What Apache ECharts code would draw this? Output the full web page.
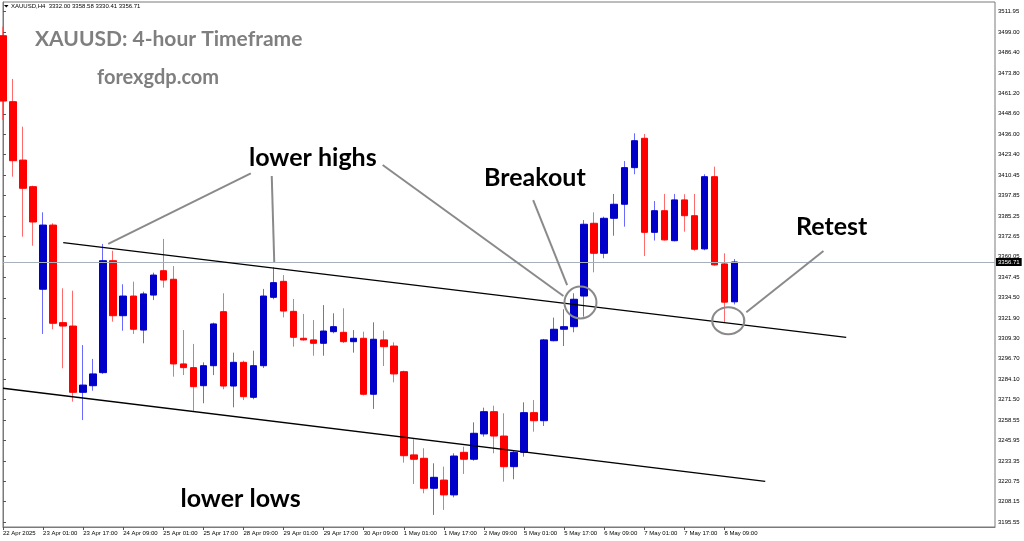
<!DOCTYPE html>
<html>
<head>
<meta charset="utf-8">
<script src="https://cdn.jsdelivr.net/npm/echarts@6/dist/echarts.min.js"></script>
<style>
html,body{margin:0;padding:0;background:#fff;}
#chart{width:1024px;height:541px;}
</style>
</head>
<body>
<div id="chart"></div>
<script>
// ---- data ----
const categories = [
 '22 Apr 09:00','22 Apr 13:00','22 Apr 17:00','22 Apr 21:00',
 '23 Apr 01:00','23 Apr 05:00','23 Apr 09:00','23 Apr 13:00','23 Apr 17:00','23 Apr 21:00',
 '24 Apr 01:00','24 Apr 05:00','24 Apr 09:00','24 Apr 13:00','24 Apr 17:00','24 Apr 21:00',
 '25 Apr 01:00','25 Apr 05:00','25 Apr 09:00','25 Apr 13:00','25 Apr 17:00','25 Apr 21:00',
 '28 Apr 01:00','28 Apr 05:00','28 Apr 09:00','28 Apr 13:00','28 Apr 17:00','28 Apr 21:00',
 '29 Apr 01:00','29 Apr 05:00','29 Apr 09:00','29 Apr 13:00','29 Apr 17:00','29 Apr 21:00',
 '30 Apr 01:00','30 Apr 05:00','30 Apr 09:00','30 Apr 13:00','30 Apr 17:00','30 Apr 21:00',
 '1 May 01:00','1 May 05:00','1 May 09:00','1 May 13:00','1 May 17:00','1 May 21:00',
 '2 May 01:00','2 May 05:00','2 May 09:00','2 May 13:00','2 May 17:00','2 May 21:00',
 '5 May 01:00','5 May 05:00','5 May 09:00','5 May 13:00','5 May 17:00','5 May 21:00',
 '6 May 01:00','6 May 05:00','6 May 09:00','6 May 13:00','6 May 17:00','6 May 21:00',
 '7 May 01:00','7 May 05:00','7 May 09:00','7 May 13:00','7 May 17:00','7 May 21:00',
 '8 May 01:00','8 May 05:00','8 May 09:00','8 May 13:00'
];
const opens  = [3497.0,3456.1,3419.9,3403.4,3339.8,3379.6,3319.1,3317.0,3275.9,3280.0,
 3288.1,3357.5,3323.4,3335.6,3314.5,3336.2,3351.3,3346.0,3293.5,3291.2,
 3280.0,3292.4,3325.9,3279.8,3294.5,3272.8,3292.4,3334.8,3344.7,3326.1,
 3309.4,3308.4,3306.3,3313.5,3313.1,3307.3,3309.4,3274.7,3308.4,3304.6,
 3288.7,3237.1,3235.0,3216.4,3221.5,3212.3,3238.7,3234.4,3250.1,3263.9,
 3248.8,3229.8,3238.7,3263.3,3258.3,3307.9,3315.0,3316.6,3335.6,3380.7,
 3362.1,3383.8,3392.5,3415.2,3433.4,3375.1,3388.5,3369.9,3395.2,3385.4,
 3364.8,3409.6,3355.5,3332.00];
const highs  = [3502.6,3470.2,3440.6,3404.0,3387.5,3380.7,3340.4,3338.9,3305.2,3296.6,
 3367.9,3363.7,3342.9,3344.5,3338.3,3350.1,3371.0,3354.2,3314.5,3305.9,
 3294.5,3319.1,3337.3,3300.5,3295.5,3301.7,3340.0,3353.4,3348.6,3333.8,
 3324.5,3320.7,3330.0,3324.9,3328.0,3314.5,3313.5,3319.3,3314.1,3306.9,
 3289.3,3246.8,3241.2,3231.9,3229.8,3238.1,3242.2,3257.3,3266.4,3267.6,
 3262.9,3240.1,3269.7,3271.1,3309.0,3322.2,3327.4,3337.3,3382.7,3387.5,
 3384.8,3398.9,3419.3,3436.5,3436.1,3394.5,3398.9,3398.9,3398.7,3398.9,
 3411.1,3415.8,3362.1,3358.58];
const lows   = [3444.7,3409.6,3372.4,3366.8,3312.1,3315.0,3290.8,3270.1,3258.7,3276.9,
 3287.3,3319.7,3314.1,3312.1,3306.3,3333.1,3340.8,3285.6,3286.6,3264.5,
 3269.1,3286.6,3277.8,3266.6,3271.1,3271.6,3291.0,3333.6,3322.4,3304.2,
 3307.9,3298.6,3298.6,3312.5,3306.5,3300.5,3274.0,3265.6,3292.2,3282.1,
 3232.3,3219.1,3213.3,3199.9,3203.0,3210.8,3225.3,3233.5,3248.4,3238.1,
 3220.5,3222.0,3236.0,3251.5,3255.0,3307.5,3304.6,3313.1,3322.8,3350.3,
 3359.0,3373.0,3378.6,3411.1,3360.4,3370.0,3370.0,3369.5,3375.5,3363.7,
 3364.0,3354.5,3319.1,3330.41];
const closes = [3456.5,3419.5,3402.4,3381.5,3379.6,3318.7,3317.0,3275.9,3280.4,3287.3,
 3357.5,3323.4,3335.6,3315.0,3336.9,3348.6,3345.5,3293.5,3291.2,3279.4,
 3292.4,3318.3,3279.8,3294.5,3273.2,3292.4,3335.6,3343.9,3326.3,3310.0,
 3308.4,3306.3,3313.9,3316.6,3307.3,3309.4,3274.7,3308.8,3304.2,3287.3,
 3236.6,3234.4,3216.4,3223.2,3212.3,3236.4,3234.4,3250.5,3263.9,3248.8,
 3229.8,3238.7,3263.3,3258.3,3308.4,3315.0,3316.6,3333.6,3380.1,3362.1,
 3383.8,3392.5,3415.2,3431.9,3375.1,3388.5,3370.4,3395.2,3385.4,3364.6,
 3409.6,3354.9,3331.8,3356.71];
const xTickLabels = ['22 Apr 2025','23 Apr 01:00','23 Apr 17:00','24 Apr 09:00','25 Apr 01:00',
 '25 Apr 17:00','28 Apr 09:00','29 Apr 01:00','29 Apr 17:00','30 Apr 09:00','1 May 01:00',
 '1 May 17:00','2 May 09:00','5 May 01:00','5 May 17:00','6 May 09:00','7 May 01:00',
 '7 May 17:00','8 May 09:00'];
const yTickLabels = [3511.95,3499.00,3486.40,3473.80,3461.20,3448.60,3436.00,3423.40,3410.45,
 3397.85,3385.25,3372.65,3360.05,3347.45,3334.50,3321.90,3309.30,3296.70,3284.10,3271.50,
 3258.55,3245.95,3233.35,3220.75,3208.15,3195.55];
const lastPrice = 3356.71;
const header = 'XAUUSD,H4  3332.00 3358.58 3330.41 3356.71';
// channel lines [barIndex, price]
const upperChannel = [[6.01, 3368.7], [84.15, 3310.0]];
const lowerChannel = [[0, 3278.4], [76.07, 3220.7]];
// annotation pointer segments [barIndex, price]
const pointers = [
 [[24.73, 3411.7], [10.50, 3367.9]],
 [[26.82, 3410.0], [27.07, 3356.7]],
 [[37.89, 3416.85], [55.93, 3335.6]],
 [[52.91, 3395.1], [56.30, 3342.4]],
 [[81.88, 3363.5], [74.18, 3325.5]]
];
const rings = [[57.63, 3331.6], [72.38, 3320.3]];

// ---- build ----
const N = 100;
const cats = categories.concat(new Array(N - categories.length).fill(''));
const full = opens.map((o, i) => [o, closes[i], lows[i], highs[i]]);
const bodies = opens.map((o, i) => [o, closes[i], Math.min(o, closes[i]), Math.max(o, closes[i])]);
const RED = '#ff0000', BLUE = '#0000c8';
const tickShow = (i) => i % 4 === 0 && i <= 72;

const chart = echarts.init(document.getElementById('chart'), null, {renderer: 'canvas'});
const axisFont = 'Liberation Sans';
chart.setOption({
  animation: false,
  backgroundColor: '#fff',
  grid: {left: 2, top: 2, right: 29, bottom: 14, show: true, borderColor: '#7a7a7a', borderWidth: 1},
  xAxis: [{
    type: 'category', data: cats, boundaryGap: false,
    axisLine: {lineStyle: {color: '#7a7a7a'}},
    axisTick: {interval: tickShow, length: 3, lineStyle: {color: '#555'}},
    axisLabel: {interval: tickShow, formatter: (v, i) => xTickLabels[i / 4] || '', align: 'left',
      fontSize: 6, fontFamily: axisFont, color: '#000', margin: 3},
    splitLine: {show: false}
  }, {
    type: 'value', min: 0, max: N - 1, show: false
  }],
  yAxis: {
    type: 'value', position: 'right', min: 3192.4, max: 3517.9,
    axisLine: {show: true, lineStyle: {color: '#7a7a7a'}},
    axisTick: {show: true, customValues: yTickLabels, length: 3, lineStyle: {color: '#555'}},
    axisLabel: {customValues: yTickLabels, formatter: v => v.toFixed(2), fontSize: 6,
      fontFamily: axisFont, color: '#000', margin: 3, align: 'left'},
    splitLine: {show: false}
  },
  series: [{
    type: 'candlestick', name: 'wick', data: full, barWidth: 1,
    itemStyle: {color: '#6a6aff', color0: '#ff6a6a', borderColor: '#6a6aff', borderColor0: '#ff6a6a', borderWidth: 1},
    z: 2, silent: true
  }, {
    type: 'candlestick', name: 'body', data: bodies, barWidth: 7,
    itemStyle: {color: BLUE, color0: RED, borderColor: BLUE, borderColor0: RED, borderWidth: 1},
    z: 3, silent: true,
    markLine: {
      silent: true, symbol: 'none',
      lineStyle: {color: '#a8b0bc', width: 1, type: 'solid'},
      label: {position: 'end', formatter: lastPrice.toFixed(2), backgroundColor: '#000', color: '#fff',
        fontSize: 6, fontFamily: axisFont, padding: [1, 2, 1, 2], distance: 1},
      data: [{yAxis: lastPrice}]
    }
  }, {
    type: 'lines', coordinateSystem: 'cartesian2d', xAxisIndex: 1, yAxisIndex: 0,
    data: [{coords: upperChannel}, {coords: lowerChannel}],
    lineStyle: {color: '#000', width: 1.4, opacity: 1}, symbol: ['none', 'none'], z: 5, silent: true
  }, {
    type: 'lines', coordinateSystem: 'cartesian2d', xAxisIndex: 1, yAxisIndex: 0,
    data: pointers.map(p => ({coords: p})),
    lineStyle: {color: '#8a8a8a', width: 2, opacity: 1}, symbol: ['none', 'none'], z: 6, silent: true
  }, {
    type: 'scatter', xAxisIndex: 1, yAxisIndex: 0,
    data: [{value: rings[0], symbolSize: [32, 32]}, {value: rings[1], symbolSize: [32, 27]}],
    itemStyle: {color: 'rgba(0,0,0,0)', borderColor: '#8a8a8a', borderWidth: 2, opacity: 1},
    z: 6, silent: true
  }],
  graphic: [
    {type: 'polygon', shape: {points: [[4, 5], [8.5, 5], [6.25, 7.5]]}, style: {fill: '#000'}},
    {type: 'text', x: 11, y: 6.5, style: {text: header, font: '6px "Liberation Sans"', fill: '#000', verticalAlign: 'middle'}},
    {type: 'text', x: 35, y: 39.5, style: {text: 'XAUUSD: 4-hour Timeframe', font: 'bold 21px Lato', fill: '#7f7f7f', verticalAlign: 'middle'}},
    {type: 'text', x: 97, y: 77.5, style: {text: 'forexgdp.com', font: 'bold 20px Lato', fill: '#7f7f7f', verticalAlign: 'middle'}},
    {type: 'text', x: 249, y: 157.5, style: {text: 'lower highs', font: 'bold 25px Lato', fill: '#000', verticalAlign: 'middle'}},
    {type: 'text', x: 484, y: 177.5, style: {text: 'Breakout', font: 'bold 25px Lato', fill: '#000', verticalAlign: 'middle'}},
    {type: 'text', x: 796, y: 227, style: {text: 'Retest', font: 'bold 25px Lato', fill: '#000', verticalAlign: 'middle'}},
    {type: 'text', x: 180.5, y: 498.5, style: {text: 'lower lows', font: 'bold 25px Lato', fill: '#000', verticalAlign: 'middle'}}
  ]
});
</script>
</body>
</html>
